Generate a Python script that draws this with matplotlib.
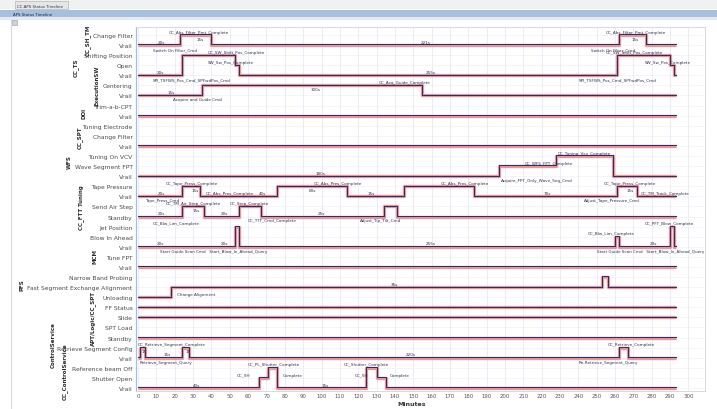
import matplotlib
matplotlib.use("Agg")
import matplotlib.pyplot as plt
from matplotlib.patches import Rectangle
from matplotlib.lines import Line2D

# ---------------- data ----------------
g1_rows = ["Change Filter", "Vrail"]
g1_times = [0, 23, 40, 262, 277, 293]
g1_states = ["Vrail", "Change Filter", "Vrail", "Change Filter", "Vrail"]

g2_rows = ["Shifting Position", "Open", "Vrail"]
g2_times = [0, 24, 53, 55, 261, 290, 292, 293]
g2_states = ["Vrail", "Shifting Position", "Open", "Vrail", "Shifting Position", "Open", "Vrail"]

g3_rows = ["Centering", "Vrail"]
g3_times = [0, 35, 155, 293]
g3_states = ["Vrail", "Centering", "Vrail"]

g4_rows = ["Trim-a-b-CPT", "Vrail"]
g4_times = [0, 293]
g4_states = ["Vrail"]

g5_rows = ["Tuning Electrode", "Change Filter", "Vrail"]
g5_times = [0, 293]
g5_states = ["Vrail"]

g6_rows = ["Tuning On VCV", "Wave Segment FPT", "Vrail"]
g6_times = [0, 197, 228, 259, 293]
g6_states = ["Vrail", "Wave Segment FPT", "Tuning On VCV", "Vrail"]

g7_rows = ["Tape Pressure", "Vrail"]
g7_times = [0, 24, 34, 76, 114, 145, 183, 261, 272, 293]
g7_states = ["Vrail", "Tape Pressure", "Vrail", "Tape Pressure", "Vrail",
             "Tape Pressure", "Vrail", "Tape Pressure", "Vrail"]

g8_rows = ["Send Air Step", "Standby"]
g8_times = [0, 24, 36, 55, 67, 134, 141, 293]
g8_states = ["Standby", "Send Air Step", "Standby", "Send Air Step", "Standby",
             "Send Air Step", "Standby"]

g9_rows = ["Jet Position", "Blow In Ahead", "Vrail"]
g9_times = [0, 53, 55, 260, 262, 290, 292, 293]
g9_states = ["Vrail", "Jet Position", "Vrail", "Blow In Ahead", "Vrail", "Jet Position", "Vrail"]

g10_rows = ["Tune FPT", "Vrail"]
g10_times = [0, 293]
g10_states = ["Vrail"]

g11_rows = ["Narrow Band Probing", "Fast Segment Exchange Alignment", "Unloading"]
g11_times = [0, 18, 253, 256, 293]
g11_states = ["Unloading", "Fast Segment Exchange Alignment", "Narrow Band Probing",
              "Fast Segment Exchange Alignment"]

g12_rows = ["FF Status"]
g12_times = [0, 293]
g12_states = ["FF Status"]

g13_rows = ["Slide"]
g13_times = [0, 293]
g13_states = ["Slide"]

g14_rows = ["SPT Load", "Standby"]
g14_times = [0, 293]
g14_states = ["Standby"]

g15_rows = ["Retrieve Segment Config", "Vrail"]
g15_times = [0, 1, 4, 24, 28, 262, 267, 293]
g15_states = ["Vrail", "Retrieve Segment Config", "Vrail", "Retrieve Segment Config", "Vrail",
              "Retrieve Segment Config", "Vrail"]

g16_rows = ["Reference beam Off", "Shutter Open", "Vrail"]
g16_times = [0, 66, 71, 76, 124, 130, 135, 293]
g16_states = ["Vrail", "Shutter Open", "Reference beam Off", "Vrail",
              "Reference beam Off", "Shutter Open", "Vrail"]

# annotations: (time, state, text, side)
g1_notes = [(11, "Vrail", "20s", "a"), (32, "Change Filter", "15s", "b"),
            (17, "Change Filter", "CC_Abs_Filter_Pmt_Complete", "a"),
            (8, "Vrail", "Switch On Filter_Cmd", "b"), (154, "Vrail", "221s", "a"),
            (269, "Change Filter", "15s", "b"), (255, "Change Filter", "CC_Abs_Filter_Pmt_Complete", "a"),
            (247, "Vrail", "Switch On Filter_Cmd", "b")]
g2_notes = [(10, "Vrail", "20s", "a"), (38, "Shifting Position", "CC_SW_Shift_Pos_Complete", "a"),
            (38, "Open", "SW_Sw_Pos_Complete", "a"), (8, "Vrail", "SPI_TSFWS_Pos_Cmd_SPFwdPos_Cmd", "b"),
            (157, "Vrail", "255s", "a"), (255, "Shifting Position", "CC_SW_Shift_Pos_Complete", "a"),
            (276, "Open", "SW_Sw_Pos_Complete", "a"), (240, "Vrail", "SPI_TSFWS_Pos_Cmd_SPFwdPos_Cmd", "b")]
g3_notes = [(16, "Vrail", "15s", "a"), (19, "Vrail", "Acquire and Guide Cmd", "b"),
            (94, "Centering", "100s", "b"), (131, "Centering", "CC_Acq_Guide_Complete", "a")]
g6_notes = [(97, "Vrail", "180s", "a"), (211, "Wave Segment FPT", "CC_WFS_FPT_Complete", "a"),
            (198, "Vrail", "Acquire_FPT_Only_Wave_Seg_Cmd", "b"),
            (229, "Tuning On VCV", "CC_Tuning_Vcv_Complete", "a")]
g7_notes = [(11, "Vrail", "20s", "a"), (15, "Tape Pressure", "CC_Tape_Press_Complete", "a"),
            (29, "Tape Pressure", "15s", "b"), (37, "Vrail", "CC_Abs_Pres_Complete", "a"),
            (4, "Vrail", "Tape_Press_Cmd", "b"), (66, "Vrail", "40s", "a"),
            (96, "Tape Pressure", "CC_Abs_Pres_Complete", "a"), (93, "Tape Pressure", "60s", "b"),
            (125, "Vrail", "15s", "a"), (165, "Tape Pressure", "CC_Abs_Pres_Complete", "a"),
            (221, "Vrail", "70s", "a"), (243, "Vrail", "Adjust_Tape_Pressure_Cmd", "b"),
            (254, "Tape Pressure", "CC_Tape_Press_Complete", "a"), (266, "Tape Pressure", "15s", "b"),
            (274, "Vrail", "CC_TM_Track_Complete", "a")]
g8_notes = [(11, "Standby", "20s", "a"), (15, "Send Air Step", "CC_TM_Air_Step_Complete", "a"),
            (30, "Send Air Step", "15s", "b"), (45, "Standby", "20s", "a"),
            (50, "Send Air Step", "CC_Step_Complete", "a"), (98, "Standby", "25s", "a"),
            (121, "Standby", "Adjust_Tip_Tilt_Cmd", "b"), (60, "Standby", "CC_TTT_Cmd_Complete", "b")]
g9_notes = [(8, "Jet Position", "CC_Blw_Lim_Complete", "a"), (10, "Vrail", "20s", "a"),
            (45, "Vrail", "20s", "a"), (12, "Vrail", "Start Guide Scan Cmd   Start_Blow_In_Ahead_Query", "b"),
            (157, "Vrail", "255s", "a"), (245, "Blow In Ahead", "CC_Blw_Lim_Complete", "a"),
            (276, "Jet Position", "CC_PFT_Blow_Complete", "a"), (279, "Vrail", "20s", "a"),
            (250, "Vrail", "Start Guide Scan Cmd   Start_Blow_In_Ahead_Query", "b")]
g11_notes = [(21, "Unloading", "Change Alignment", "a"), (138, "Fast Segment Exchange Alignment", "35s", "a")]
g15_notes = [(2, "Retrieve Segment Config", "15", "b"), (14, "Vrail", "15s", "a"),
             (26, "Retrieve Segment Config", "15", "b"), (0, "Retrieve Segment Config", "CC_Retrieve_Segment_Complete", "a"),
             (1, "Vrail", "Retrieve_Segment_Query", "b"), (146, "Vrail", "220s", "a"),
             (256, "Retrieve Segment Config", "CC_Retrieve_Complete", "a"),
             (240, "Vrail", "Re-Retrieve_Segment_Query", "b")]
g16_notes = [(30, "Vrail", "40s", "a"), (60, "Reference beam Off", "CC_PL_Shutter_Complete", "a"),
             (54, "Shutter Open", "CC_SH", "a"), (79, "Shutter Open", "Complete", "a"),
             (100, "Vrail", "15s", "a"), (112, "Reference beam Off", "CC_Shutter_Complete", "a"),
             (118, "Shutter Open", "CC_SH", "a"), (137, "Shutter Open", "Complete", "a")]

groups = [
    (g1_rows, g1_times, g1_states, g1_notes),
    (g2_rows, g2_times, g2_states, g2_notes),
    (g3_rows, g3_times, g3_states, g3_notes),
    (g4_rows, g4_times, g4_states, []),
    (g5_rows, g5_times, g5_states, []),
    (g6_rows, g6_times, g6_states, g6_notes),
    (g7_rows, g7_times, g7_states, g7_notes),
    (g8_rows, g8_times, g8_states, g8_notes),
    (g9_rows, g9_times, g9_states, g9_notes),
    (g10_rows, g10_times, g10_states, []),
    (g11_rows, g11_times, g11_states, g11_notes),
    (g12_rows, g12_times, g12_states, []),
    (g13_rows, g13_times, g13_states, []),
    (g14_rows, g14_times, g14_states, []),
    (g15_rows, g15_times, g15_states, g15_notes),
    (g16_rows, g16_times, g16_states, g16_notes),
]

group_names = ["CC_SH_TM", "CC_TS", "ExecutionSW", "DOI", "CC_SPT", "WFS",
               "CC_FTT Tuning", "MCM", "PFS", "APT/Logic/CC_SPT",
               "ControlService", "CC_ControlService"]
x_ticks = list(range(0, 301, 10))

# ---------------- figure ----------------
W, H = 717, 410
fig = plt.figure(figsize=(W / 100, H / 100), dpi=100)
fig.patch.set_facecolor("white")


def fr(x0, y0, x1, y1):
    return (x0 / W, 1 - y1 / H), (x1 - x0) / W, (y1 - y0) / H


def frect(x0, y0, x1, y1, fc, ec="none", lw=0.5):
    xy, w, h = fr(x0, y0, x1, y1)
    fig.add_artist(Rectangle(xy, w, h, transform=fig.transFigure, facecolor=fc,
                             edgecolor=ec, linewidth=lw))


# window chrome
frect(0, 0, 717, 10, "#f1f1f1")
frect(15, 2, 68, 10, "#e6e6e6", "#b5b5b5")
fig.text(17 / W, 1 - 6.5 / H, "CC-APS Status Timeline", fontsize=2.8, color="#333333", va="center")
frect(0, 11, 717, 18, "#a6c0dc")
fig.text(13 / W, 1 - 14.5 / H, "APS Status Timeline", fontsize=2.8, color="#15254a", va="center")
frect(0, 18, 717, 20, "#e3ebf4")
frect(12, 21, 17, 26, "#d0d4da", "#9098a4", 0.4)
fig.add_artist(Line2D([11 / W, 11 / W], [0, 1 - 20 / H], transform=fig.transFigure,
                      color="#dadada", lw=0.8))
fig.add_artist(Line2D([0, 1], [1 - 20 / H, 1 - 20 / H], transform=fig.transFigure,
                      color="#dde3ea", lw=0.6))

xy, w, h = fr(136, 28, 705, 392)
ax = fig.add_axes([xy[0], xy[1], w, h])
ax.set_facecolor("white")

all_rows = []
for rows, times, states, notes in groups:
    all_rows.extend(rows)
n_rows = len(all_rows)

ax.set_xlim(-1.1, 309)
ax.set_ylim(n_rows - 0.7, -0.79)

# grid
for t in x_ticks:
    ax.axvline(t, color="#dfe8f2", lw=0.5, zorder=0)
for r in range(n_rows):
    ax.axhline(r, color="#eef1f5", lw=0.5, zorder=0)

offset = 0
for rows, times, states, notes in groups:
    ys = [offset + rows.index(s) for s in states]
    ys = ys + [ys[-1]]
    ax.step(times, ys, where="post", color="#e8848e", lw=2.4, alpha=0.85,
            solid_capstyle="butt", zorder=2)
    ax.step(times, [y - 0.06 for y in ys], where="post", color="#2c3060", lw=0.75,
            zorder=3)
    for t, s, txt, side in notes:
        y = offset + rows.index(s) + (-0.33 if side == "a" else 0.38)
        ax.text(t, y, txt, fontsize=3.0, color="#30324a", ha="left", va="center", zorder=4)
    offset += len(rows)

ax.set_yticks(range(n_rows))
ax.set_yticklabels(all_rows, fontsize=4.3, color="#4a4a4a")
ax.set_xticks(x_ticks)
ax.set_xticklabels([str(t) for t in x_ticks], fontsize=3.9, color="#555555")
ax.tick_params(axis="y", length=0, pad=2.5)
ax.tick_params(axis="x", length=0, pad=1.5)
for side in ["top", "right", "bottom"]:
    ax.spines[side].set_color("#d4d4d4")
    ax.spines[side].set_linewidth(0.6)
ax.spines["left"].set_color("#9fc0de")
ax.spines["left"].set_linewidth(0.9)

fig.text(412 / W, 1 - 405 / H, "Minutes", fontsize=4.5, fontweight="bold",
         color="#333333", ha="center", va="center")

# group labels (rotated)
group_label_pos = [(88, 40), (76, 68), (97, 86), (84, 113), (80, 138), (69, 162),
                   (81, 208), (95, 257), (22, 285), (93, 318), (53, 345), (65, 372)]
for name, (x, y) in zip(group_names, group_label_pos):
    fig.text(x / W, 1 - y / H, name, fontsize=4.0, fontweight="bold", color="#2a2a2a",
             rotation=90, ha="center", va="center")

fig.savefig("out.png", dpi=100, facecolor=fig.get_facecolor())
